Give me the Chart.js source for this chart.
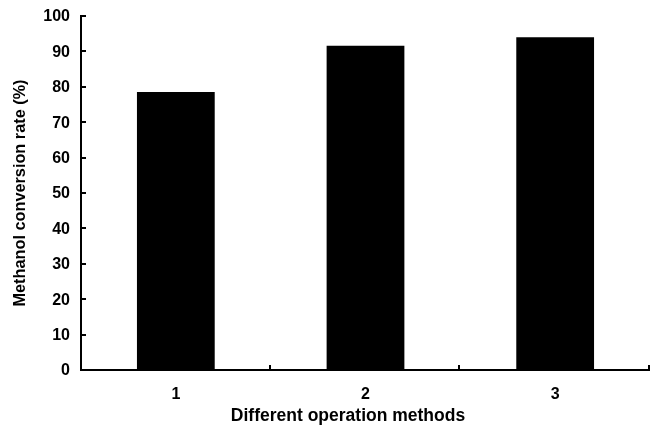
<!DOCTYPE html>
<html>
<head>
<meta charset="utf-8">
<script src="https://cdn.jsdelivr.net/npm/chart.js@4"></script>
<style>
  html, body { margin: 0; padding: 0; background: #fff; }
  canvas { display: block; }
</style>
</head>
<body>
<canvas id="chart" width="650" height="425"></canvas>
<script>
// Methanol conversion rate for each operation method
const methods = ['1', '2', '3'];
const conversionRate = [78.5, 91.6, 94.0];
const yTicks = [0, 10, 20, 30, 40, 50, 60, 70, 80, 90, 100];
const xTitle = 'Different operation methods';

const FONT = '"Liberation Sans", Arial, Helvetica, sans-serif';

// Short tick marks pointing into the plot area, plus the x-axis caption
const axisDecor = {
  id: 'axisDecor',
  afterDatasetsDraw(chart) {
    const { ctx, chartArea } = chart;
    const x = chart.scales.x;
    const y = chart.scales.y;
    ctx.save();
    ctx.strokeStyle = '#000';
    ctx.lineWidth = 2;
    ctx.beginPath();
    yTicks.forEach(v => {
      const py = Math.round(y.getPixelForValue(v));
      ctx.moveTo(chartArea.left, py);
      ctx.lineTo(chartArea.left + 5, py);
    });
    for (let i = 0; i < methods.length; i++) {
      const px = Math.round(x.getPixelForValue(i + 0.5));
      ctx.moveTo(px - 1, chartArea.bottom);
      ctx.lineTo(px - 1, chartArea.bottom - 5);
    }
    ctx.stroke();

    // caption sits a little left of the plot-area centre
    ctx.fillStyle = '#000';
    ctx.font = 'bold 17.5px ' + FONT;
    ctx.textAlign = 'center';
    ctx.textBaseline = 'alphabetic';
    ctx.fillText(xTitle, 348, 421);
    ctx.restore();
  }
};

new Chart(document.getElementById('chart'), {
  type: 'bar',
  data: {
    labels: methods,
    datasets: [{
      data: conversionRate,
      backgroundColor: '#000',
      borderWidth: 0,
      categoryPercentage: 1,
      barPercentage: 0.41
    }]
  },
  options: {
    responsive: false,
    animation: false,
    layout: { padding: { top: 16, right: 0, bottom: 0, left: 0 } },
    plugins: { legend: { display: false }, tooltip: { enabled: false } },
    scales: {
      x: {
        offset: true,
        grid: { display: false, drawTicks: false },
        border: { display: true, color: '#000', width: 2 },
        ticks: {
          color: '#000',
          padding: 15,
          font: { family: FONT, size: 16, weight: 'bold' }
        },
        afterFit(scale) { scale.height = 55; }
      },
      y: {
        min: 0,
        max: 100,
        grid: { display: false, drawTicks: false },
        border: { display: true, color: '#000', width: 2 },
        afterBuildTicks(scale) { scale.ticks = yTicks.map(v => ({ value: v })); },
        ticks: {
          color: '#000',
          padding: 11,
          labelOffset: 1,
          font: { family: FONT, size: 16, weight: 'bold', lineHeight: 0.5 }
        },
        title: {
          display: true,
          text: 'Methanol conversion rate (%)',
          color: '#000',
          padding: { top: 12.5, bottom: 0 },
          font: { family: FONT, size: 16.3, weight: 'bold', lineHeight: 1 }
        },
        afterFit(scale) { scale.width = 81; }
      }
    }
  },
  plugins: [axisDecor]
});
</script>
</body>
</html>
